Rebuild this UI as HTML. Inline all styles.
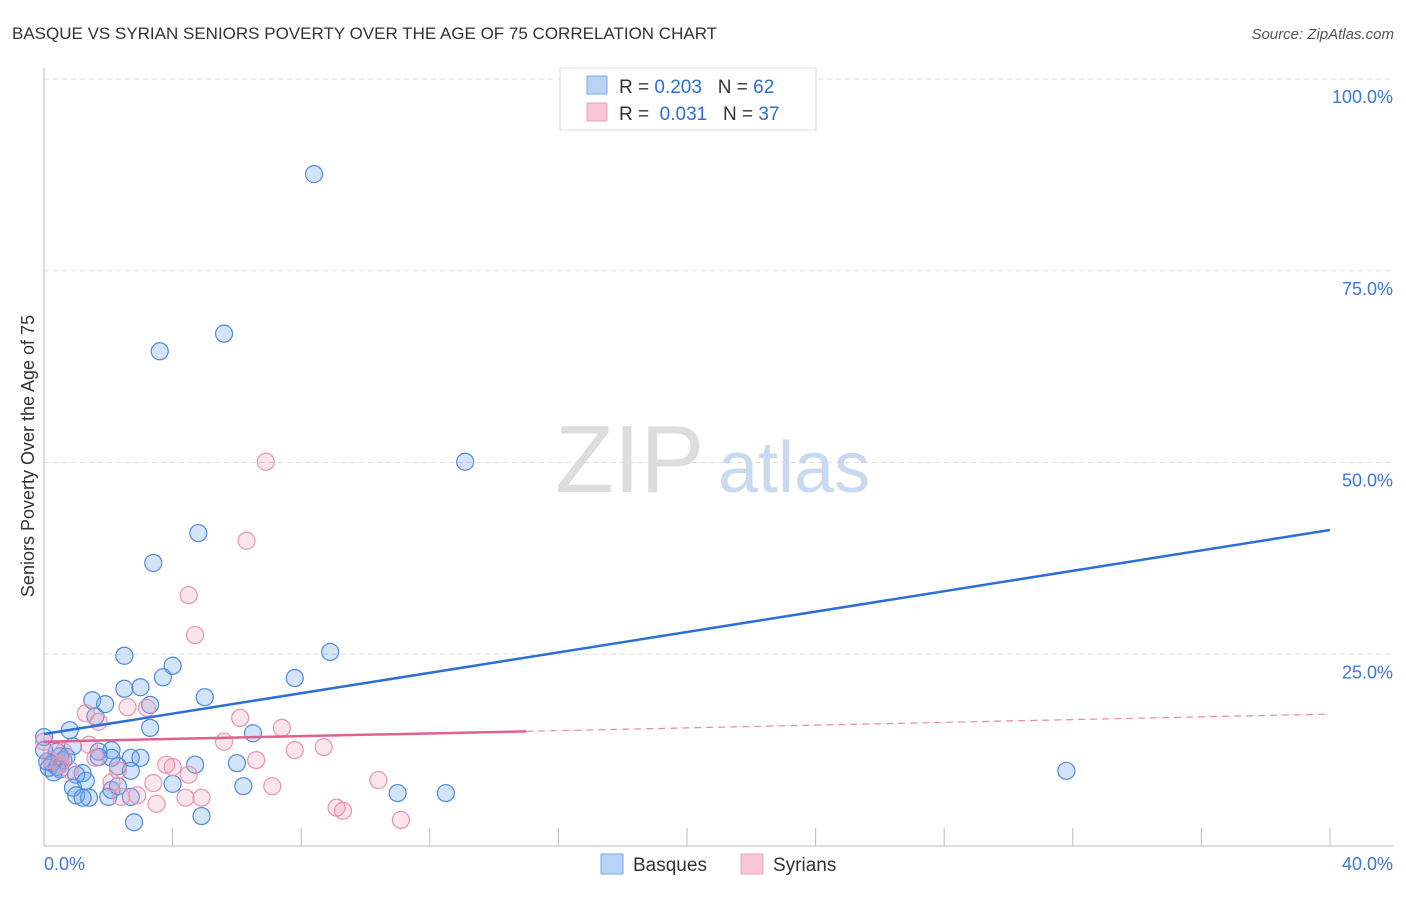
<!DOCTYPE html>
<html><head><meta charset="utf-8"><style>
body{margin:0;background:#fff;font-family:"Liberation Sans",sans-serif}
svg text{font-family:"Liberation Sans",sans-serif}
</style></head><body>
<svg id="c" width="1406" height="892">
<text x="12" y="39" font-size="17" fill="#333">BASQUE VS SYRIAN SENIORS POVERTY OVER THE AGE OF 75 CORRELATION CHART</text>
<text x="1394" y="39" font-size="15" fill="#555" font-style="italic" text-anchor="end">Source: ZipAtlas.com</text>
<text transform="translate(34,456) rotate(-90)" font-size="18" fill="#333" text-anchor="middle">Seniors Poverty Over the Age of 75</text>
<g id="grid"></g>
<text x="555" y="492" font-size="96" fill="#ddd" font-family="Liberation Serif">ZIP</text>
<text x="718" y="492" font-size="72" fill="#c8d9f0">atlas</text>
<g id="pts"></g>
<g id="lines"></g>
<g>
<rect x="560" y="68" width="256" height="62" fill="#fff" stroke="#ddd"/>
<rect x="587" y="76" width="20" height="18" fill="#b8d3f5" stroke="#7aa7e8"/>
<rect x="587" y="103" width="20" height="18" fill="#f9c6d6" stroke="#eea0b8"/>
<text x="619" y="93" font-size="19" fill="#333">R = <tspan fill="#2b6fd6">0.203</tspan>&#160;&#160;&#160;N = <tspan fill="#2b6fd6">62</tspan></text>
<text x="619" y="120" font-size="19" fill="#333">R = &#160;<tspan fill="#2b6fd6">0.031</tspan>&#160;&#160;&#160;N = <tspan fill="#2b6fd6">37</tspan></text>
</g>
<g>
<rect x="601" y="854" width="22" height="20" fill="#b8d3f5" stroke="#7aa7e8"/>
<text x="633" y="871" font-size="19" fill="#333">Basques</text>
<rect x="741" y="854" width="22" height="20" fill="#f9c6d6" stroke="#eea0b8"/>
<text x="773" y="871" font-size="19" fill="#333">Syrians</text>
</g>
</svg>
<script>
const xTicks=[0,40];
const yTicks=[25,50,75,100];
const basqueX=[8.4,5.6,3.6,13.1,4.8,3.4,8.9,2.5,4.0,3.7,7.8,2.5,3.0,5.0,1.5,1.9,3.3,1.6,3.3,0.8,0,0.9,2.1,0.4,1.7,2.7,3.0,0.25,0.6,4.7,6.0,2.3,0.15,0.4,2.7,1.2,0.5,0.3,1.0,1.3,0.9,2.1,1.0,1.4,2.0,1.2,6.2,4.0,11.0,12.5,31.8,2.8,4.9,2.7,2.3,0.7,0.5,0.1,6.5,0,2.1,1.7];
const basqueY=[87.6,66.8,64.5,50.1,40.8,36.9,25.3,24.8,23.5,22.0,21.9,20.5,20.7,19.4,19.0,18.5,18.4,16.9,15.4,15.1,14.2,13.0,12.5,12.3,12.3,11.5,11.5,10.8,11.2,10.6,10.8,10.4,10.2,10.3,9.8,9.5,10.0,9.6,9.3,8.5,7.6,7.3,6.6,6.3,6.4,6.3,7.8,8.1,6.9,6.9,9.8,3.1,3.9,6.4,7.8,11.6,11.7,11.0,14.7,12.5,11.5,11.6];
const syrianX=[6.9,6.3,4.5,4.7,6.1,7.4,2.6,1.3,1.7,3.2,5.6,7.8,8.7,6.6,3.8,4.0,4.5,3.4,2.1,10.4,7.1,2.9,2.4,3.5,4.4,4.9,9.1,9.3,11.1,0,0.2,0.6,1.4,1.6,0.5,0.8,2.3];
const syrianY=[50.1,39.8,32.7,27.5,16.7,15.4,18.1,17.3,16.2,18.0,13.6,12.5,12.9,11.2,10.6,10.3,9.3,8.2,8.3,8.6,7.8,6.6,6.4,5.5,6.3,6.3,5.0,4.6,3.4,13.6,11.2,12.3,13.2,11.5,10.6,9.9,9.9];
const basqueTrend=[14.6,41.2];
const syrianTrend=[13.6,17.2];
const NS="http://www.w3.org/2000/svg";
const X=v=>44+v*(1286/40);
const Y=v=>846-v*(767/100);
function mk(t,a,p){const e=document.createElementNS(NS,t);for(const k in a)e.setAttribute(k,a[k]);p.appendChild(e);return e;}
const g=document.getElementById('grid');
yTicks.forEach(t=>{
 const l=mk('line',{x1:44,x2:1394,y1:Y(t),y2:Y(t),stroke:'#ddd','stroke-dasharray':'5,4'},g);
 
 
 const tx=mk('text',{x:1393,y:Y(t)+24,'font-size':18,fill:'#3a78d8','text-anchor':'end'},g);
 tx.textContent=t.toFixed(1)+'%';
 
 
});
const ax=mk('line',{x1:44,x2:44,y1:68,y2:846,stroke:'#bbb'},g);


const bx=mk('line',{x1:44,x2:1394,y1:846,y2:846,stroke:'#bbb'},g);


for(let v=4;v<=40;v+=4){
 const t=mk('line',{x1:X(v),x2:X(v),y1:828,y2:846,stroke:'#bbb'},g);
 
 
}
xTicks.forEach((t,i)=>{
 const tx=mk('text',{x:i?1393:44,y:870,'font-size':18,fill:'#3a78d8','text-anchor':i?'end':'start'},g);
 tx.textContent=t.toFixed(1)+'%';
 
 
});
const p=document.getElementById('pts');
basqueX.forEach((v,i)=>{
 const c=mk('circle',{cx:X(v),cy:Y(basqueY[i]),r:8.5,fill:'rgba(110,165,235,0.3)',stroke:'#4f8ae0','stroke-width':1.2},p);
 
 
});
syrianX.forEach((v,i)=>{
 const c=mk('circle',{cx:X(v),cy:Y(syrianY[i]),r:8.5,fill:'rgba(240,150,180,0.25)',stroke:'#eb93b0','stroke-width':1.2},p);
 
 
});
const L=document.getElementById('lines');
const bl=mk('line',{x1:X(0),y1:Y(basqueTrend[0]),x2:X(40),y2:Y(basqueTrend[1]),stroke:'#2b6fd6','stroke-width':2.5},L);


const sm=syrianTrend[0]+(syrianTrend[1]-syrianTrend[0])*15/40;
const sl=mk('line',{x1:X(0),y1:Y(syrianTrend[0]),x2:X(15),y2:Y(sm),stroke:'#e0608e','stroke-width':2.5},L);


const sd=mk('line',{x1:X(15),y1:Y(sm),x2:X(40),y2:Y(syrianTrend[1]),stroke:'#e889a8','stroke-width':1.2,'stroke-dasharray':'7,5'},L);


</script>
</body></html>
